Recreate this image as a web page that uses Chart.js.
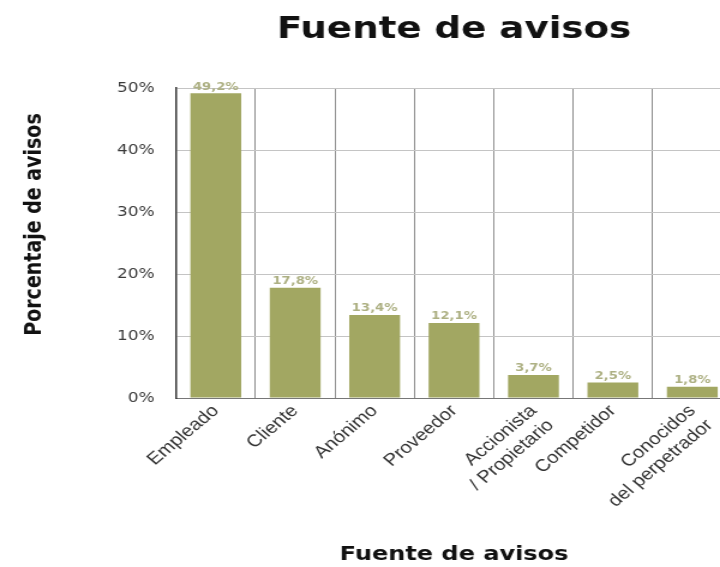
<!DOCTYPE html>
<html>
<head>
<meta charset="utf-8">
<script src="https://cdn.jsdelivr.net/npm/chart.js@4"></script>
<style>
  html, body { margin: 0; padding: 0; background: #fff; }
  #wrap { width: 720px; height: 567px; overflow: hidden; }
</style>
</head>
<body>
<div id="wrap">
  <canvas id="c" width="620" height="567" style="width:744px;height:567px"></canvas>
</div>
<script>
const categories = [
    'Empleado',
    'Cliente',
    'Anónimo',
    'Proveedor',
    ['Accionista', '/ Propietario'],
    'Competidor',
    ['Conocidos', 'del perpetrador']
];
const percentages = [49.2, 17.8, 13.4, 12.1, 3.7, 2.5, 1.8];
const yTicks = [0, 10, 20, 30, 40, 50];

const barColor = '#a2a762';

// value labels above each bar, decimal comma
const barValueLabels = {
    id: 'barValueLabels',
    afterDatasetsDraw(chart) {
        const ctx = chart.ctx;
        const meta = chart.getDatasetMeta(0);
        ctx.save();
        ctx.font = 'bold 11px "DejaVu Sans"';
        ctx.fillStyle = '#adb083';
        ctx.textAlign = 'center';
        ctx.textBaseline = 'bottom';
        meta.data.forEach((bar, i) => {
            const text = percentages[i].toFixed(1).replace('.', ',') + '%';
            ctx.fillText(text, bar.x, bar.y - 1);
        });
        ctx.restore();
    }
};

// vertical axis title, sits a bit above the middle of the plot
const yAxisTitle = {
    id: 'yAxisTitle',
    afterDraw(chart) {
        const { ctx, chartArea } = chart;
        const y = chartArea.top + (chartArea.bottom - chartArea.top) * 0.44;
        ctx.save();
        ctx.translate(29, y);
        ctx.rotate(-Math.PI / 2);
        ctx.font = 'bold 19px "DejaVu Sans"';
        ctx.fillStyle = '#111';
        ctx.textAlign = 'center';
        ctx.textBaseline = 'middle';
        ctx.fillText('Porcentaje de avisos', 0, 0);
        ctx.restore();
    }
};

new Chart(document.getElementById('c'), {
    type: 'bar',
    data: {
        labels: categories,
        datasets: [{
            data: percentages,
            backgroundColor: barColor,
            borderWidth: 0,
            barPercentage: 0.64,
            categoryPercentage: 1
        }]
    },
    options: {
        responsive: false,
        animation: false,
        layout: { padding: { top: 0, right: 10, bottom: 0, left: 0 } },
        plugins: {
            legend: { display: false },
            tooltip: { enabled: false },
            title: {
                display: true,
                text: 'Fuente de avisos',
                fullSize: false,
                color: '#111',
                font: { family: 'DejaVu Sans', size: 31, weight: 'bold' },
                padding: { top: 11, bottom: 40 }
            }
        },
        scales: {
            x: {
                grid: {
                    color: '#8e8e8e',
                    lineWidth: 1,
                    offset: true,
                    drawTicks: false
                },
                border: { color: '#777', width: 1 },
                ticks: {
                    autoSkip: false,
                    minRotation: 45,
                    maxRotation: 45,
                    padding: 3,
                    color: '#333',
                    font: { family: 'Liberation Sans', size: 17 }
                },
                title: {
                    display: true,
                    text: 'Fuente de avisos',
                    color: '#111',
                    font: { family: 'DejaVu Sans', size: 20, weight: 'bold' },
                    padding: { top: 0, bottom: 0 }
                },
                afterFit(scale) {
                    scale.height = 169;
                }
            },
            y: {
                min: 0,
                max: 50,
                afterBuildTicks(scale) {
                    scale.ticks = yTicks.map(v => ({ value: v }));
                },
                grid: {
                    color: '#c4c4c4',
                    lineWidth: 1,
                    drawTicks: false
                },
                border: { color: '#333', width: 1.5 },
                ticks: {
                    padding: 18,
                    color: '#3a3a3a',
                    font: { family: 'DejaVu Sans', size: 14 },
                    callback: v => v + '%'
                },
                afterFit(scale) {
                    scale.width = 146.7;
                }
            }
        }
    },
    plugins: [barValueLabels, yAxisTitle]
});
</script>
</body>
</html>
